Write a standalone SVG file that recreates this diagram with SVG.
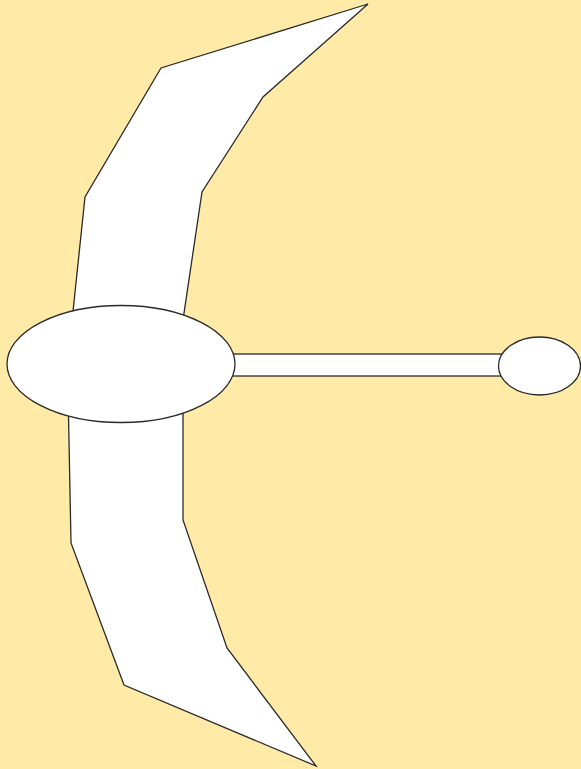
<svg xmlns="http://www.w3.org/2000/svg" width="581" height="769" viewBox="0 0 581 769">
<style>
.s{fill:#ffffff;stroke:#2a2a2a;stroke-width:1.3;stroke-linejoin:miter}
</style>
<rect width="581" height="769" fill="#ffeaa7"/>
<g id="upper-limb"><polygon class="s" points="70,340 85,197 161,68 368,4 263,97 202,192 180,340"/></g>
<g id="lower-limb"><polygon class="s" points="68,390 71,543 124,685 316,766 227,648 183,520 183,390"/></g>
<g id="handle"><rect class="s" x="225" y="354" width="280" height="22"/></g>
<g id="grip"><ellipse class="s" cx="121" cy="364" rx="114" ry="58.5"/></g>
<g id="knob"><ellipse class="s" cx="539.5" cy="366" rx="41" ry="29"/></g>
</svg>
